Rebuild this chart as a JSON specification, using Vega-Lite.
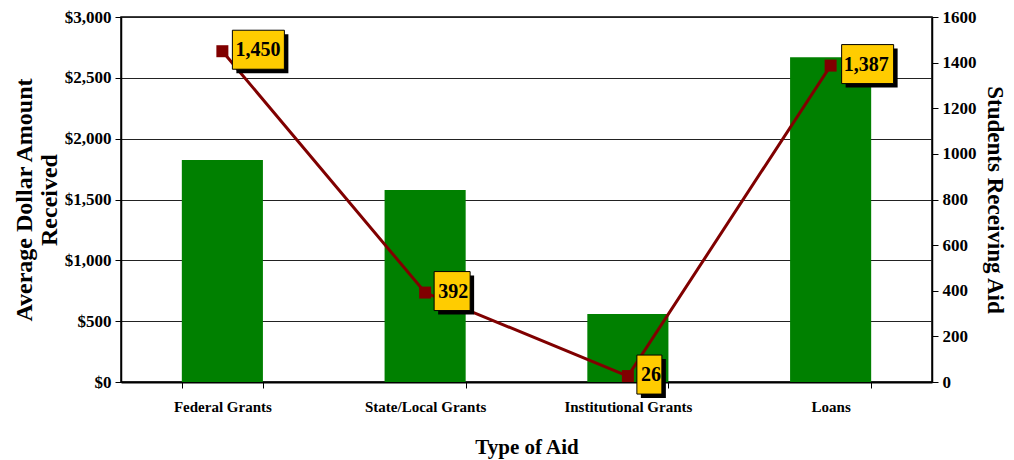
{
  "$schema": "https://vega.github.io/schema/vega-lite/v6.json",
  "autosize": {"type": "none"},
  "width": 811,
  "height": 365,
  "padding": {"left": 121, "top": 17, "right": 82, "bottom": 78},
  "background": "white",
  "config": {
    "font": "Liberation Serif",
    "view": {"stroke": "black", "strokeWidth": 1.5},
    "axis": {
      "labelFont": "Liberation Serif",
      "labelFontWeight": "bold",
      "labelColor": "black",
      "titleFont": "Liberation Serif",
      "titleFontWeight": "bold",
      "titleColor": "black",
      "titleFontSize": 21,
      "tickColor": "black",
      "domainColor": "black"
    }
  },
  "data": {
    "values": [
      {"cat": "Federal Grants", "amount": 1825, "students": 1450, "label": "1,450"},
      {"cat": "State/Local Grants", "amount": 1578, "students": 392, "label": "392"},
      {"cat": "Institutional Grants", "amount": 559, "students": 26, "label": "26"},
      {"cat": "Loans", "amount": 2670, "students": 1387, "label": "1,387"}
    ]
  },
  "encoding": {
    "x": {
      "field": "cat",
      "type": "nominal",
      "sort": null,
      "scale": {"paddingInner": 0.6, "paddingOuter": 0.3},
      "axis": {
        "title": "Type of Aid",
        "labelAngle": 0,
        "labelFontSize": 15,
        "tickBand": "extent",
        "tickSize": 6,
        "labelPadding": 11,
        "titlePadding": 22,
        "domainWidth": 2
      }
    }
  },
  "layer": [
    {
      "mark": {"type": "bar", "color": "#008000"},
      "encoding": {
        "y": {
          "field": "amount",
          "type": "quantitative",
          "scale": {"domain": [0, 3000]},
          "axis": {
            "title": ["Average Dollar Amount", "Received"],
            "titleFontSize": 24,
            "titleLineHeight": 25,
            "titlePadding": 3,
            "format": "$,.0f",
            "values": [0, 500, 1000, 1500, 2000, 2500, 3000],
            "labelFontSize": 17,
            "labelPadding": 4,
            "tickSize": 6,
            "grid": true,
            "gridColor": "#222222",
            "gridWidth": 1,
            "domainWidth": 1.5
          }
        }
      }
    },
    {
      "encoding": {
        "y": {
          "field": "students",
          "type": "quantitative",
          "scale": {"domain": [0, 1600]},
          "axis": {
            "orient": "right",
            "title": "Students Receiving Aid",
            "titleFontSize": 23,
            "format": "d",
            "values": [0, 200, 400, 600, 800, 1000, 1200, 1400, 1600],
            "labelFontSize": 17,
            "labelPadding": 4,
            "tickSize": 6,
            "titlePadding": 6,
            "grid": false,
            "domainWidth": 1.5
          }
        }
      },
      "layer": [
        {"mark": {"type": "line", "color": "#800000", "strokeWidth": 3}},
        {"mark": {"type": "point", "shape": "square", "filled": true, "size": 144, "color": "#800000", "opacity": 1}},
        {
          "mark": {"type": "point", "filled": true, "size": 1600, "color": "black", "opacity": 1, "xOffset": 4, "yOffset": 4},
          "encoding": {
            "shape": {
              "field": "cat", "type": "nominal", "legend": null,
              "scale": {
                "domain": ["Federal Grants", "State/Local Grants", "Institutional Grants", "Loans"],
                "range": ["M0.5,-1.05L3.1,-1.05L3.1,0.9L0.5,0.9Z", "M0.45,-1.05L2.25,-1.05L2.25,0.9L0.45,0.9Z", "M0.45,-1.05L1.7,-1.05L1.7,0.9L0.45,0.9Z", "M0.55,-1.05L3.15,-1.05L3.15,0.9L0.55,0.9Z"]
              }
            }
          }
        },
        {
          "mark": {"type": "point", "filled": true, "size": 1600, "fill": "#FFCC00", "stroke": "black", "strokeWidth": 1, "opacity": 1},
          "encoding": {
            "shape": {"field": "cat", "type": "nominal", "legend": null}
          }
        },
        {
          "mark": {"type": "text", "align": "left", "baseline": "middle", "dx": 13, "dy": -1, "font": "Liberation Serif", "fontWeight": "bold", "fontSize": 20, "color": "black"},
          "encoding": {"text": {"field": "label"}}
        }
      ]
    }
  ],
  "resolve": {"scale": {"y": "independent"}}
}
